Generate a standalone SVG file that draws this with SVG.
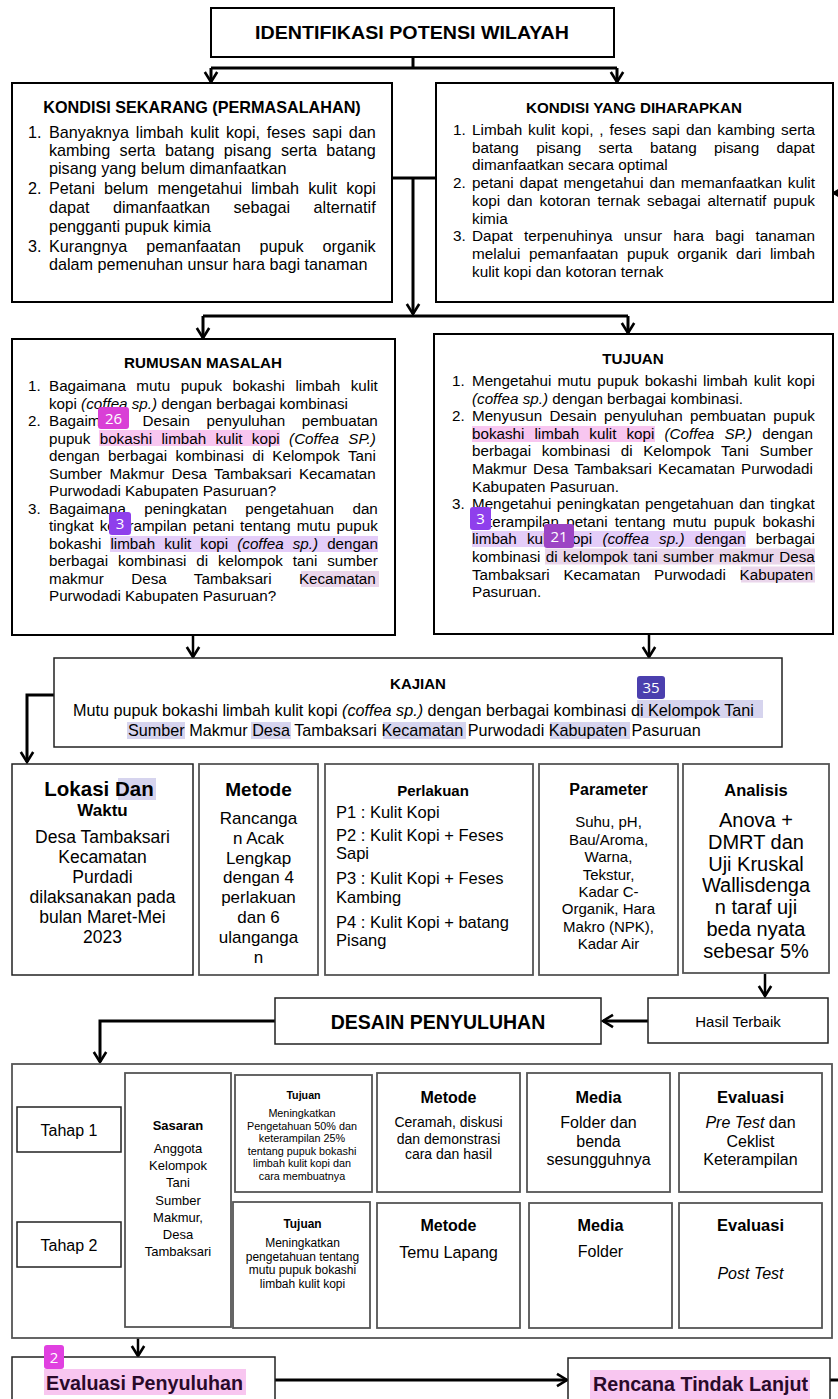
<svg xmlns="http://www.w3.org/2000/svg" width="838" height="1399" viewBox="0 0 838 1399">
<style>
text{font-family:"Liberation Sans",Arial,Helvetica,sans-serif;fill:#000}
.b{font-weight:bold}
.i{font-style:italic}
.c{text-anchor:middle}
.box{fill:#fff;stroke:#000;stroke-width:2}
.gbox{fill:#fff;stroke:#555;stroke-width:1.8}
.tbox{fill:#fff;stroke:#222;stroke-width:1.5}
.conn{fill:none;stroke:#000;stroke-width:3}
.conn2{fill:none;stroke:#000;stroke-width:2.5}
.hp{fill:#f8c6f0}
.hl{fill:#e4cdf9}
.hm{fill:#ead6eb}
.hb{fill:#d6d4ee}
.k1{font-size:16.2px}
.k2{font-size:15.3px}
.k3{font-size:15.2px}
.badge text{font-family:"Open Sans","Noto Sans",sans-serif;fill:#fff;font-size:15px;text-anchor:middle}
</style>
<defs>
<marker id="arr" viewBox="0 0 12 14" refX="10.5" refY="7" markerWidth="12" markerHeight="14" markerUnits="userSpaceOnUse" orient="auto" overflow="visible">
<path d="M0.5,0.8 L10.5,7 L0.5,13.2" fill="none" stroke="#000" stroke-width="2.6"/>
</marker>
</defs>
<rect width="838" height="1399" fill="#fff"/>

<g id="connectors">
<path class="conn" d="M413,57 V68"/>
<path class="conn" d="M211,68 H617"/>
<path class="conn" d="M211,68 V82" marker-end="url(#arr)"/>
<path class="conn" d="M617,68 V82" marker-end="url(#arr)"/>
<path class="conn" d="M392,178 H436"/>
<path class="conn" d="M413,178 V314" marker-end="url(#arr)"/>
<path class="conn" d="M203,316 H628"/>
<path class="conn" d="M203,316 V338" marker-end="url(#arr)"/>
<path class="conn" d="M628,316 V333" marker-end="url(#arr)"/>
<path class="conn" d="M846,193 H834" marker-end="url(#arr)"/>
<path class="conn2" d="M193,635 V657" marker-end="url(#arr)"/>
<path class="conn2" d="M649,634 V657" marker-end="url(#arr)"/>
<path class="conn" d="M54,695 H27 V762" marker-end="url(#arr)"/>
<path class="conn2" d="M765,974 V996" marker-end="url(#arr)"/>
<path class="conn" d="M648,1021 H603" marker-end="url(#arr)"/>
<path class="conn" d="M275,1021 H100 V1062" marker-end="url(#arr)"/>
<path class="conn2" d="M138,1338 V1356" marker-end="url(#arr)"/>
<path class="conn" d="M275,1380 H567" marker-end="url(#arr)"/>
<path class="conn" d="M830,1380 H840"/>
</g>

<g id="n-title">
<rect class="box" x="211" y="8" width="403" height="49"/>
<text class="b c" x="412" y="39" font-size="19" textLength="314" lengthAdjust="spacingAndGlyphs">IDENTIFIKASI POTENSI WILAYAH</text>
</g>

<g id="n-kondisi-sekarang">
<rect class="box" x="12" y="83" width="380" height="219"/>
<text class="b c" x="202" y="113" font-size="16.2">KONDISI SEKARANG (PERMASALAHAN)</text>
<g class="k1">
<text x="28" y="138">1.</text>
<text x="49" y="138" word-spacing="2.28">Banyaknya limbah kulit kopi, feses sapi dan</text>
<text x="49" y="156" word-spacing="4.88">kambing serta batang pisang serta batang</text>
<text x="49" y="174">pisang yang belum dimanfaatkan</text>
<text x="28" y="194">2.</text>
<text x="49" y="194" word-spacing="4.72">Petani belum mengetahui limbah kulit kopi</text>
<text x="49" y="213" word-spacing="18.9">dapat dimanfaatkan sebagai alternatif</text>
<text x="49" y="232">pengganti pupuk kimia</text>
<text x="28" y="252">3.</text>
<text x="49" y="252" word-spacing="14.4">Kurangnya pemanfaatan pupuk organik</text>
<text x="49" y="270">dalam pemenuhan unsur hara bagi tanaman</text>
</g>
</g>

<g id="n-kondisi-harapan">
<rect class="box" x="436" y="83" width="397" height="219"/>
<text class="b c" x="634" y="112.5" font-size="15.2">KONDISI YANG DIHARAPKAN</text>
<g class="k2">
<text x="453" y="135">1.</text>
<text x="472" y="135" word-spacing="1.64">Limbah kulit kopi, , feses sapi dan kambing serta</text>
<text x="472" y="152.7" word-spacing="13.1">batang pisang serta batang pisang dapat</text>
<text x="472" y="170.4">dimanfaatkan secara optimal</text>
<text x="453" y="188.1">2.</text>
<text x="472" y="188.1" word-spacing="1.58">petani dapat mengetahui dan memanfaatkan kulit</text>
<text x="472" y="205.8" word-spacing="2.73">kopi dan kotoran ternak sebagai alternatif pupuk</text>
<text x="472" y="223.5">kimia</text>
<text x="453" y="241.2">3.</text>
<text x="472" y="241.2" word-spacing="7.02">Dapat terpenuhinya unsur hara bagi tanaman</text>
<text x="472" y="258.9" word-spacing="4.32">melalui pemanfaatan pupuk organik dari limbah</text>
<text x="472" y="276.6">kulit kopi dan kotoran ternak</text>
</g>
</g>

<g id="n-rumusan">
<rect class="box" x="12" y="339" width="383" height="296"/>
<rect class="hp" x="99" y="430" width="181" height="16"/>
<rect class="hl" x="110" y="536" width="268" height="16"/>
<rect class="hm" x="301" y="571" width="78" height="16"/>
<text class="b c" x="203" y="367.5" font-size="15.2">RUMUSAN MASALAH</text>
<g class="k3">
<text x="28" y="391">1.</text>
<text x="49" y="391" word-spacing="6.32">Bagaimana mutu pupuk bokashi limbah kulit</text>
<text x="49" y="408.5">kopi <tspan class="i">(coffea sp.)</tspan> dengan berbagai kombinasi</text>
<text x="28" y="426">2.</text>
<text x="49" y="426" word-spacing="12.5">Bagaimana Desain penyuluhan pembuatan</text>
<text x="49" y="443.5" word-spacing="5.13">pupuk bokashi limbah kulit kopi <tspan class="i">(Coffea SP.)</tspan></text>
<text x="49" y="461" word-spacing="4.12">dengan berbagai kombinasi di Kelompok Tani</text>
<text x="49" y="478.5" word-spacing="3.05">Sumber Makmur Desa Tambaksari Kecamatan</text>
<text x="49" y="496">Purwodadi Kabupaten Pasuruan?</text>
<text x="28" y="513.5">3.</text>
<text x="49" y="513.5" word-spacing="14.17">Bagaimana peningkatan pengetahuan dan</text>
<text x="49" y="531" word-spacing="1.76">tingkat keterampilan petani tentang mutu pupuk</text>
<text x="49" y="548.5" word-spacing="4.85">bokashi limbah kulit kopi <tspan class="i">(coffea sp.)</tspan> dengan</text>
<text x="49" y="566" word-spacing="5.66">berbagai kombinasi di kelompok tani sumber</text>
<text x="49" y="583.5" word-spacing="23.2">makmur Desa Tambaksari Kecamatan</text>
<text x="49" y="601">Purwodadi Kabupaten Pasuruan?</text>
</g>
</g>

<g id="n-tujuan">
<rect class="box" x="434" y="334" width="399" height="300"/>
<rect class="hp" x="472" y="426" width="183" height="16"/>
<rect class="hl" x="472" y="531" width="274" height="16"/>
<rect class="hm" x="545" y="548.5" width="270" height="16"/>
<rect class="hm" x="741" y="566.5" width="74" height="16"/>
<text class="b c" x="633" y="363.5" font-size="15.2">TUJUAN</text>
<g class="k3">
<text x="452" y="386">1.</text>
<text x="472" y="386" word-spacing="1.83">Mengetahui mutu pupuk bokashi limbah kulit kopi</text>
<text x="472" y="403.6"><tspan class="i">(coffea sp.)</tspan> dengan berbagai kombinasi.</text>
<text x="452" y="421.2">2.</text>
<text x="472" y="421.2" word-spacing="3.15">Menyusun Desain penyuluhan pembuatan pupuk</text>
<text x="472" y="438.8" word-spacing="5.92">bokashi limbah kulit kopi <tspan class="i">(Coffea SP.)</tspan> dengan</text>
<text x="472" y="456.4" word-spacing="6.42">berbagai kombinasi di Kelompok Tani Sumber</text>
<text x="472" y="474" word-spacing="1.92">Makmur Desa Tambaksari Kecamatan Purwodadi</text>
<text x="472" y="491.6">Kabupaten Pasuruan.</text>
<text x="452" y="509.2">3.</text>
<text x="472" y="509.2" word-spacing="1.25">Mengetahui peningkatan pengetahuan dan tingkat</text>
<text x="472" y="526.8" word-spacing="3.04">keterampilan petani tentang mutu pupuk bokashi</text>
<text x="472" y="544.4" word-spacing="6.05">limbah kulit kopi <tspan class="i">(coffea sp.)</tspan> dengan berbagai</text>
<text x="472" y="562" word-spacing="1.13">kombinasi di kelompok tani sumber makmur Desa</text>
<text x="472" y="579.6" word-spacing="9.57">Tambaksari Kecamatan Purwodadi Kabupaten</text>
<text x="472" y="597.2">Pasuruan.</text>
</g>
</g>

<g id="n-kajian">
<rect class="tbox" x="54" y="658" width="728" height="89"/>
<rect class="hb" x="637" y="700" width="126" height="18"/>
<rect class="hb" x="127" y="722" width="58" height="17"/>
<rect class="hb" x="251" y="722" width="40" height="17"/>
<rect class="hb" x="383" y="722" width="83" height="17"/>
<rect class="hb" x="550" y="722" width="80" height="17"/>
<text class="b c" x="418" y="689" font-size="15">KAJIAN</text>
<text x="73" y="715.5" font-size="16.2">Mutu pupuk bokashi limbah kulit kopi <tspan class="i">(coffea sp.)</tspan> dengan berbagai kombinasi di Kelompok Tani</text>
<text x="128" y="736" font-size="16.2">Sumber Makmur Desa Tambaksari Kecamatan Purwodadi Kabupaten Pasuruan</text>
</g>

<g id="n-lokasi">
<rect class="tbox" x="12" y="764" width="181" height="211"/>
<rect class="hb" x="118" y="778" width="38" height="22"/>
<text class="b c" x="99" y="796" font-size="20.5">Lokasi Dan</text>
<text class="b c" x="102.5" y="816" font-size="17">Waktu</text>
<g font-size="17.5">
<text class="c" x="102.5" y="843">Desa Tambaksari</text>
<text class="c" x="102.5" y="863">Kecamatan</text>
<text class="c" x="102.5" y="883">Purdadi</text>
<text class="c" x="102.5" y="903">dilaksanakan pada</text>
<text class="c" x="102.5" y="923">bulan Maret-Mei</text>
<text class="c" x="102.5" y="943">2023</text>
</g>
</g>

<g id="n-metode">
<rect class="gbox" x="199" y="764" width="119" height="211"/>
<text class="b c" x="258.5" y="796" font-size="19">Metode</text>
<g font-size="17">
<text class="c" x="258.5" y="824">Rancanga</text>
<text class="c" x="258.5" y="843.8">n Acak</text>
<text class="c" x="258.5" y="863.6">Lengkap</text>
<text class="c" x="258.5" y="883.4">dengan 4</text>
<text class="c" x="258.5" y="903.2">perlakuan</text>
<text class="c" x="258.5" y="923">dan 6</text>
<text class="c" x="258.5" y="942.8">ulanganga</text>
<text class="c" x="258.5" y="962.6">n</text>
</g>
</g>

<g id="n-perlakuan">
<rect class="gbox" x="325" y="764" width="208" height="211"/>
<text class="b c" x="433" y="795.5" font-size="15">Perlakuan</text>
<g font-size="16.5">
<text x="336" y="818">P1 : Kulit Kopi</text>
<text x="336" y="841">P2 : Kulit Kopi + Feses</text>
<text x="336" y="859">Sapi</text>
<text x="336" y="884">P3 : Kulit Kopi + Feses</text>
<text x="336" y="903">Kambing</text>
<text x="336" y="928">P4 : Kulit Kopi + batang</text>
<text x="336" y="946">Pisang</text>
</g>
</g>

<g id="n-parameter">
<rect class="gbox" x="539" y="764" width="139" height="211"/>
<text class="b c" x="608.5" y="795" font-size="16">Parameter</text>
<g font-size="15">
<text class="c" x="608.5" y="827.4">Suhu, pH,</text>
<text class="c" x="608.5" y="844.8">Bau/Aroma,</text>
<text class="c" x="608.5" y="862.2">Warna,</text>
<text class="c" x="608.5" y="879.6">Tekstur,</text>
<text class="c" x="608.5" y="897">Kadar C-</text>
<text class="c" x="608.5" y="914.4">Organik, Hara</text>
<text class="c" x="608.5" y="931.8">Makro (NPK),</text>
<text class="c" x="608.5" y="949.2">Kadar Air</text>
</g>
</g>

<g id="n-analisis">
<rect class="gbox" x="683" y="764" width="146" height="209"/>
<text class="b c" x="756" y="796" font-size="16.5">Analisis</text>
<g font-size="20">
<text class="c" x="756" y="827">Anova +</text>
<text class="c" x="756" y="848.8">DMRT dan</text>
<text class="c" x="756" y="870.6">Uji Kruskal</text>
<text class="c" x="756" y="892.4">Wallisdenga</text>
<text class="c" x="756" y="914.2">n taraf uji</text>
<text class="c" x="756" y="936">beda nyata</text>
<text class="c" x="756" y="957.8">sebesar 5%</text>
</g>
</g>

<g id="n-hasil">
<rect class="tbox" x="648" y="998" width="180" height="45"/>
<text class="c" x="738" y="1027" font-size="15">Hasil Terbaik</text>
</g>

<g id="n-desain">
<rect class="tbox" x="275" y="998" width="326" height="46"/>
<text class="b c" x="438" y="1029" font-size="19.5">DESAIN PENYULUHAN</text>
</g>

<g id="n-program">
<rect class="gbox" x="12" y="1064" width="820" height="274"/>
<g id="n-tahap1">
<rect class="tbox" x="17" y="1107" width="104" height="45"/>
<text class="c" x="69" y="1136" font-size="16">Tahap 1</text>
</g>
<g id="n-tahap2">
<rect class="tbox" x="17" y="1222" width="104" height="45"/>
<text class="c" x="69" y="1251" font-size="16">Tahap 2</text>
</g>
<g id="n-sasaran">
<rect class="gbox" x="125" y="1073" width="106" height="254"/>
<text class="b c" x="178" y="1130" font-size="13">Sasaran</text>
<g font-size="13">
<text class="c" x="178" y="1153">Anggota</text>
<text class="c" x="178" y="1170.2">Kelompok</text>
<text class="c" x="178" y="1187.4">Tani</text>
<text class="c" x="178" y="1204.6">Sumber</text>
<text class="c" x="178" y="1221.8">Makmur,</text>
<text class="c" x="178" y="1239">Desa</text>
<text class="c" x="178" y="1256.2">Tambaksari</text>
</g>
</g>
<g id="n-tujuan1">
<rect class="gbox" x="235" y="1075" width="137" height="117"/>
<text class="b c" x="303.5" y="1099" font-size="10.7">Tujuan</text>
<g font-size="10.8">
<text class="c" x="302" y="1117">Meningkatkan</text>
<text class="c" x="302" y="1129.5">Pengetahuan 50% dan</text>
<text class="c" x="302" y="1142">keterampilan 25%</text>
<text class="c" x="302" y="1154.5">tentang pupuk bokashi</text>
<text class="c" x="302" y="1167">limbah kulit kopi dan</text>
<text class="c" x="302" y="1179.5">cara membuatnya</text>
</g>
</g>
<g id="n-tujuan2">
<rect class="gbox" x="233" y="1202" width="137" height="126"/>
<text class="b c" x="302.5" y="1227.5" font-size="11.9">Tujuan</text>
<g font-size="12">
<text class="c" x="302.5" y="1247">Meningkatkan</text>
<text class="c" x="302.5" y="1260.5">pengetahuan tentang</text>
<text class="c" x="302.5" y="1274">mutu pupuk bokashi</text>
<text class="c" x="302.5" y="1287.5">limbah kulit kopi</text>
</g>
</g>
<g id="n-metode1">
<rect class="gbox" x="377" y="1073" width="143" height="119"/>
<text class="b c" x="448.5" y="1103" font-size="16">Metode</text>
<g font-size="14">
<text class="c" x="448.5" y="1127">Ceramah, diskusi</text>
<text class="c" x="448.5" y="1143.5">dan demonstrasi</text>
<text class="c" x="448.5" y="1159">cara dan hasil</text>
</g>
</g>
<g id="n-metode2">
<rect class="gbox" x="377" y="1203" width="143" height="125"/>
<text class="b c" x="448.5" y="1231" font-size="16">Metode</text>
<text class="c" x="448.5" y="1258" font-size="16.3">Temu Lapang</text>
</g>
<g id="n-media1">
<rect class="gbox" x="527" y="1073" width="143" height="119"/>
<text class="b c" x="598.5" y="1103" font-size="16.2">Media</text>
<g font-size="16">
<text class="c" x="598.5" y="1128">Folder dan</text>
<text class="c" x="598.5" y="1146.5">benda</text>
<text class="c" x="598.5" y="1165">sesungguhnya</text>
</g>
</g>
<g id="n-media2">
<rect class="gbox" x="529" y="1203" width="143" height="125"/>
<text class="b c" x="600.5" y="1231" font-size="16.2">Media</text>
<text class="c" x="600.5" y="1257" font-size="16">Folder</text>
</g>
<g id="n-evaluasi1">
<rect class="gbox" x="679" y="1073" width="143" height="119"/>
<text class="b c" x="750.5" y="1103" font-size="16.5">Evaluasi</text>
<g font-size="16">
<text class="c" x="750.5" y="1128"><tspan class="i">Pre Test</tspan> dan</text>
<text class="c" x="750.5" y="1146.5">Ceklist</text>
<text class="c" x="750.5" y="1165">Keterampilan</text>
</g>
</g>
<g id="n-evaluasi2">
<rect class="gbox" x="679" y="1203" width="143" height="125"/>
<text class="b c" x="750.5" y="1231" font-size="16.5">Evaluasi</text>
<text class="c i" x="750.5" y="1279" font-size="16">Post Test</text>
</g>
</g>

<g id="n-evaluasi-penyuluhan">
<rect class="tbox" x="12" y="1357" width="263" height="60"/>
<rect class="hp" x="44" y="1369" width="202" height="26"/>
<text class="b" x="46" y="1390" font-size="19.5" style="fill:#2a0a2a" textLength="197" lengthAdjust="spacingAndGlyphs">Evaluasi Penyuluhan</text>
</g>

<g id="n-rencana">
<rect class="tbox" x="568" y="1358" width="262" height="60"/>
<rect class="hp" x="590" y="1370" width="220" height="29"/>
<text class="b" x="593" y="1391" font-size="19.5" style="fill:#2a0a2a" textLength="215" lengthAdjust="spacingAndGlyphs">Rencana Tindak Lanjut</text>
</g>

<g id="annotation-badges" class="badge">
<rect x="98" y="407" width="31" height="22" rx="3" fill="#d93fd6"/>
<text x="113.5" y="423.5">26</text>
<rect x="109" y="512" width="22" height="23" rx="3" fill="#8f3fec"/>
<text x="120" y="529">3</text>
<rect x="470" y="507" width="21" height="23" rx="3" fill="#8f3fec"/>
<text x="480.5" y="524">3</text>
<rect x="544" y="524" width="30" height="24" rx="3" fill="#9c44c4"/>
<text x="559" y="541.5">21</text>
<rect x="637" y="676" width="28" height="23" rx="3" fill="#4b3fae"/>
<text x="651" y="693">35</text>
<rect x="44" y="1345" width="20" height="24" rx="3" fill="#e040e0"/>
<text x="54" y="1362.5">2</text>
</g>
</svg>
